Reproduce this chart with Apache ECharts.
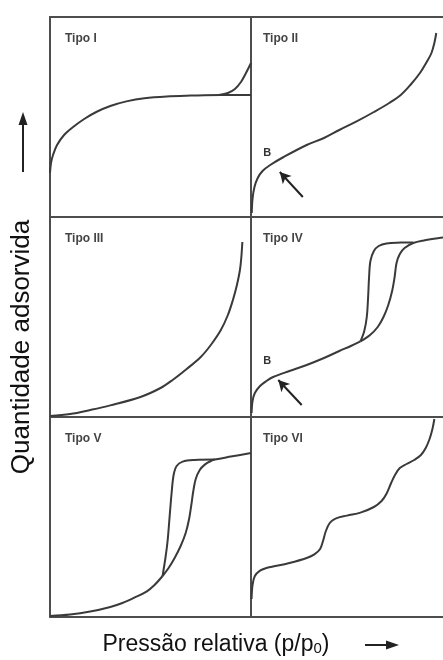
<!DOCTYPE html>
<html>
<head>
<meta charset="utf-8">
<script src="https://cdn.jsdelivr.net/npm/echarts@6/dist/echarts.min.js"></script>
<style>
  html, body { margin: 0; padding: 0; background: #fff; }
  #chart { width: 443px; height: 660px; }
</style>
</head>
<body>
<div id="chart"></div>
<script>
// Isotherm shapes on normalised axes: x = p/p0 (0..1), y = amount adsorbed (0..1)
const panelTitles = ['Tipo I', 'Tipo II', 'Tipo III', 'Tipo IV', 'Tipo V', 'Tipo VI'];

const typeI = [[0,0.22],[0.005,0.27],[0.015,0.31],[0.035,0.36],[0.07,0.41],[0.115,0.45],[0.17,0.49],[0.23,0.525],[0.3,0.555],[0.38,0.578],[0.47,0.594],[0.58,0.603],[0.7,0.607],[0.85,0.61],[1,0.61]];
const typeIBranch = [[0.84,0.61],[0.885,0.62],[0.92,0.64],[0.95,0.675],[0.975,0.72],[1,0.77]];

const typeII = [[0.004,0.02],[0.008,0.09],[0.018,0.15],[0.035,0.195],[0.06,0.23],[0.1,0.26],[0.17,0.3],[0.29,0.36],[0.38,0.395],[0.46,0.435],[0.55,0.478],[0.64,0.525],[0.72,0.57],[0.78,0.61],[0.83,0.66],[0.88,0.72],[0.915,0.775],[0.94,0.82],[0.955,0.87],[0.965,0.92]];

const typeIII = [[0,0.005],[0.1,0.015],[0.2,0.035],[0.3,0.058],[0.45,0.1],[0.55,0.145],[0.61,0.185],[0.68,0.24],[0.75,0.3],[0.8,0.36],[0.85,0.435],[0.885,0.51],[0.91,0.585],[0.93,0.66],[0.945,0.735],[0.952,0.8],[0.957,0.875]];

const typeIV = [[0.003,0.02],[0.008,0.08],[0.02,0.12],[0.047,0.155],[0.08,0.18],[0.115,0.2],[0.2,0.23],[0.29,0.26],[0.38,0.295],[0.46,0.33],[0.52,0.355],[0.57,0.378]];
const typeIVAds = [[0.57,0.378],[0.62,0.41],[0.66,0.45],[0.69,0.5],[0.715,0.56],[0.735,0.63],[0.748,0.7],[0.758,0.77],[0.775,0.815],[0.8,0.845],[0.845,0.87],[0.9,0.883],[0.98,0.895],[1,0.897]];
const typeIVDes = [[0.57,0.378],[0.59,0.43],[0.603,0.5],[0.61,0.6],[0.615,0.7],[0.622,0.78],[0.64,0.83],[0.665,0.855],[0.705,0.868],[0.78,0.872],[0.845,0.873]];

const typeV = [[0,0.005],[0.1,0.012],[0.2,0.027],[0.3,0.05],[0.36,0.07],[0.42,0.097],[0.48,0.127],[0.52,0.16],[0.56,0.205]];
const typeVAds = [[0.56,0.205],[0.59,0.245],[0.62,0.295],[0.65,0.355],[0.675,0.42],[0.692,0.49],[0.703,0.56],[0.713,0.63],[0.725,0.69],[0.745,0.735],[0.77,0.762],[0.8,0.78],[0.82,0.787],[0.9,0.802],[1,0.82]];
const typeVDes = [[0.56,0.205],[0.575,0.3],[0.585,0.38],[0.595,0.5],[0.605,0.62],[0.615,0.71],[0.63,0.755],[0.66,0.777],[0.72,0.785],[0.82,0.787]];

const typeVI = [[0.003,0.09],[0.008,0.16],[0.02,0.205],[0.047,0.232],[0.08,0.245],[0.115,0.252],[0.2,0.27],[0.29,0.295],[0.33,0.313],[0.36,0.34],[0.375,0.38],[0.39,0.43],[0.41,0.47],[0.44,0.492],[0.5,0.507],[0.57,0.522],[0.64,0.55],[0.68,0.58],[0.705,0.615],[0.73,0.67],[0.75,0.71],[0.775,0.745],[0.81,0.765],[0.85,0.785],[0.885,0.81],[0.91,0.845],[0.93,0.89],[0.945,0.94],[0.955,0.99]];

// Point B (start of multilayer adsorption) and the arrow pointing at it
const pointB_II = [0.085, 0.3225];
const pointB_IV = [0.085, 0.28];
const arrowB_II = [[0.27, 0.1], [0.15, 0.225]];
const arrowB_IV = [[0.264, 0.06], [0.142, 0.185]];

// Layout of the 3 x 2 panel grid
const colLeft = [50, 251];
const colWidth = [201, 193];
const rowTop = [17, 217, 417];
const rowHeight = 200;

const frameLine = { show: true, onZero: false, lineStyle: { color: '#4d4d4d', width: 2 } };
function frameAxis(gridIndex, extra) {
  return Object.assign({
    gridIndex: gridIndex, type: 'value', min: 0, max: 1,
    axisLine: frameLine, axisTick: { show: false }, axisLabel: { show: false }, splitLine: { show: false }
  }, extra || {});
}

// Panel frames are drawn with axis lines: left and bottom for every panel,
// a top line for the first row, and the right side closed by the neighbour's left line.
const grids = [], xAxes = [], yAxes = [], titles = [];
for (let i = 0; i < 6; i++) {
  const c = i % 2, r = Math.floor(i / 2);
  grids.push({ left: colLeft[c], top: rowTop[r], width: colWidth[c], height: rowHeight });
  xAxes.push(frameAxis(i, { position: 'bottom' }));
  yAxes.push(frameAxis(i, { position: 'left' }));
  titles.push({
    text: panelTitles[i],
    padding: 0,
    left: colLeft[c] + (c === 0 ? 15 : 12),
    top: rowTop[r] + 16,
    textStyle: { fontFamily: 'Liberation Sans, Arial, sans-serif', fontSize: 12, fontWeight: 'bold', color: '#444' }
  });
}
xAxes.push(frameAxis(0, { position: 'top' }));
xAxes.push(frameAxis(1, { position: 'top' }));

const curveStyle = { color: '#3a3a3a', width: 2 };
function curve(idx, data, extra) {
  return Object.assign({
    type: 'line', xAxisIndex: idx, yAxisIndex: idx, data: data,
    showSymbol: false, symbol: 'none', smooth: 0.35, lineStyle: curveStyle,
    silent: true, animation: false
  }, extra || {});
}
function markB(point, arrow) {
  return {
    markPoint: {
      symbol: 'rect', symbolSize: 1, itemStyle: { color: 'rgba(0,0,0,0)' },
      label: { show: true, position: 'inside', formatter: 'B', fontFamily: 'Liberation Sans, Arial, sans-serif',
               fontSize: 11, fontWeight: 'bold', color: '#333' },
      data: [{ coord: point }], animation: false
    },
    markLine: {
      symbol: ['none', 'arrow'], symbolSize: [9, 11], silent: true, animation: false,
      lineStyle: { color: '#222', width: 2, type: 'solid' },
      label: { show: false },
      data: [[{ coord: arrow[0] }, { coord: arrow[1] }]]
    }
  };
}

const series = [
  curve(0, typeI), curve(0, typeIBranch),
  curve(1, typeII, markB(pointB_II, arrowB_II)),
  curve(2, typeIII),
  curve(3, typeIV, markB(pointB_IV, arrowB_IV)), curve(3, typeIVAds), curve(3, typeIVDes),
  curve(4, typeV), curve(4, typeVAds), curve(4, typeVDes),
  curve(5, typeVI)
];

const axisFont = 'Liberation Sans, Arial, sans-serif';
const chart = echarts.init(document.getElementById('chart'), null, { renderer: 'canvas' });
chart.setOption({
  animation: false,
  title: titles,
  grid: grids, xAxis: xAxes, yAxis: yAxes,
  series: series,
  graphic: [
    { type: 'text', x: 22, y: 347, rotation: Math.PI / 2,
      style: { text: 'Quantidade adsorvida', font: '26px ' + axisFont, fill: '#111', textAlign: 'center', textVerticalAlign: 'middle' } },
    { type: 'line', shape: { x1: 23, y1: 172, x2: 23, y2: 122 }, style: { stroke: '#222', lineWidth: 2 } },
    { type: 'polygon', shape: { points: [[23, 112], [18.5, 125], [27.5, 125]] }, style: { fill: '#222' } },
    { type: 'text', x: 216, y: 645,
      style: { rich: { a: { font: '23px ' + axisFont, fill: '#111' }, s: { font: '15px ' + axisFont, fill: '#111', padding: [8, 0, 0, 0] } },
               text: '{a|Pressão relativa (p/p}{s|0}{a|)}', textAlign: 'center', textVerticalAlign: 'middle' } },
    { type: 'line', shape: { x1: 365, y1: 645, x2: 388, y2: 645 }, style: { stroke: '#222', lineWidth: 2 } },
    { type: 'polygon', shape: { points: [[399, 645], [386, 640.5], [386, 649.5]] }, style: { fill: '#222' } }
  ]
});
</script>
</body>
</html>
